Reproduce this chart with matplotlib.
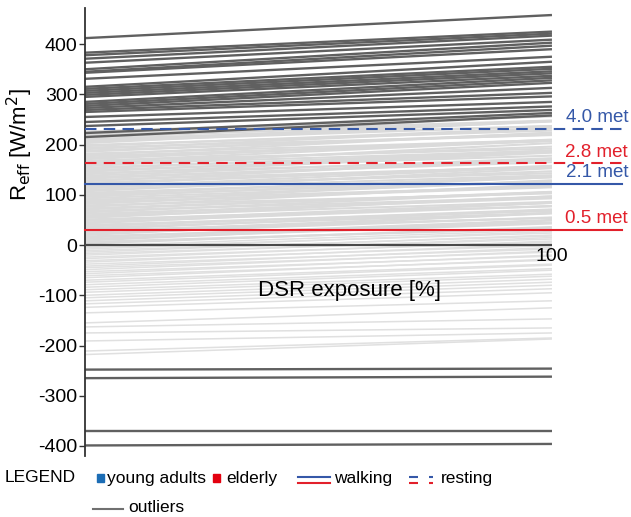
import matplotlib
matplotlib.use("Agg")
import matplotlib.pyplot as plt
from matplotlib.patches import Rectangle

plt.rcParams['font.family'] = ['Liberation Sans', 'DejaVu Sans']
plt.rcParams['axes.unicode_minus'] = False

# ---------------- data ----------------
exposure = [0, 100]

# light grey lines (R_eff at 0 % and 100 % DSR exposure)
light_pos_start = [226, 223, 220, 218, 214, 211, 208, 206, 203, 199, 197, 194, 191, 188, 186, 182,
                   179, 177, 174, 171, 168, 166, 163, 160, 157, 154, 152, 149, 146, 143, 141, 138,
                   135, 132, 129, 127, 124, 121, 118, 115, 113, 110, 107, 104, 101, 99, 96, 93,
                   90, 87, 85, 82, 79, 76, 73, 71, 68, 65, 62, 59, 57, 54, 51, 48,
                   45, 43, 40, 37, 34, 31, 29, 26, 23, 20, 17, 15, 12, 9, 6, 3]
light_pos_end = [256, 258, 248, 258, 247, 237, 246, 237, 247, 228, 233, 219, 232, 220, 223, 209,
                 224, 207, 208, 210, 192, 208, 196, 188, 203, 185, 188, 178, 186, 169, 184, 173,
                 165, 170, 156, 171, 156, 158, 143, 156, 147, 139, 153, 135, 137, 127, 135, 126,
                 116, 129, 115, 119, 103, 121, 105, 106, 95, 105, 93, 97, 86, 97, 77, 84,
                 78, 84, 68, 71, 64, 70, 54, 63, 55, 64, 45, 50, 43, 49, 33, 36]

light_neg_start = [-2, -5, -8, -11, -14, -17, -20, -24, -27, -31, -34, -38, -42, -45, -49, -53,
                   -57, -61, -65, -70, -74, -79, -84, -89, -94, -100, -105, -111, -117, -124,
                   -135, -155, -163, -175, -191, -211, -218]
light_neg_end = [30, 24, 27, 18, 20, 12, 15, 6, 8, -1, 2, -8, -5, -14, -12, -22,
                 -20, -30, -28, -38, -40, -47, -50, -58, -62, -68, -74, -80, -87, -95,
                 -111, -125, -147, -165, -175, -185, -187]

# outliers (dark grey)
outlier_start = [412, 383, 378, 371, 363, 350, 345, 343, 331, 315, 311, 307, 303, 299, 295, 285,
                 281, 277, 273, 269, 265, 255, 245, 237, 223, 215,
                 -248, -265, -370, -399]
outlier_end = [458, 425, 421, 417, 409, 403, 397, 390, 375, 365, 355, 351, 346, 342, 337, 333,
               328, 323, 313, 303, 296, 285, 276, 269, 263, 258,
               -246, -262, -370, -396]

# metabolic reference levels
met_labels = ['4.0 met', '2.8 met', '2.1 met', '0.5 met']
met_R = [231, 163, 122, 30]
met_group = ['young adults', 'elderly', 'young adults', 'elderly']
met_activity = ['resting', 'resting', 'walking', 'walking']

y_ticks = [-400, -300, -200, -100, 0, 100, 200, 300, 400]

# ---------------- style ----------------
BLUE_LINE = '#3558a8'
RED_LINE = '#e2202b'
BLUE_SQ = '#1c6db5'
RED_SQ = '#e3000f'
DARK = '#606060'
LIGHT_POS = '#dadada'
LIGHT_NEG = '#e0e0e0'

fig = plt.figure(figsize=(6.31, 5.17), dpi=100)
ax = fig.add_axes([85 / 631, (517 - 456) / 517, 537 / 631, 448 / 517])
ax.set_xlim(0, 115)
ax.set_ylim(-420, 472)

for s, e in zip(light_pos_start, light_pos_end):
    ax.plot(exposure, [s, e], color=LIGHT_POS, lw=1.5, zorder=1, solid_capstyle='butt')
for s, e in zip(light_neg_start, light_neg_end):
    ax.plot(exposure, [s, e], color=LIGHT_NEG, lw=1.1, zorder=1, solid_capstyle='butt')
for s, e in zip(outlier_start, outlier_end):
    ax.plot(exposure, [s, e], color=DARK, lw=1.7, zorder=2, solid_capstyle='butt')

# x axis line at R = 0
ax.plot(exposure, [0, 0], color='#4a4a4a', lw=1.6, zorder=3, solid_capstyle='butt')

# reference lines
for lab, r, grp, act in zip(met_labels, met_R, met_group, met_activity):
    col = BLUE_LINE if grp == 'young adults' else RED_LINE
    ls = '-' if act == 'walking' else (0, (5.5, 3.5))
    ax.plot([0, 115], [r, r], color=col, lw=1.5, ls=ls, zorder=4, clip_on=False)
    ax.text(116.3, r + 22, lab, color=col, fontsize=13.5, ha='right', va='center',
            clip_on=False)

ax.set_yticks(y_ticks)
ax.set_yticklabels([str(t) for t in y_ticks])
ax.set_xticks([])
ax.tick_params(axis='y', length=4, width=1.0, pad=1.5, labelsize=14, color='#333333')
for sp in ['top', 'right', 'bottom']:
    ax.spines[sp].set_visible(False)
ax.spines['left'].set_color('#333333')
ax.spines['left'].set_linewidth(1.3)
ax.patch.set_alpha(0)

ax.text(100, -6, '100', fontsize=14, ha='center', va='top', zorder=5)
ax.text(56.7, -90, 'DSR exposure [%]', fontsize=16, ha='center', va='center', zorder=5)

fig.text(20 / 631, 1 - 145 / 517, r'R$_{\mathrm{eff}}$ [W/m$^{2}$]', rotation=90,
         fontsize=16, ha='center', va='center')

# ---------------- legend (pixel overlay) ----------------
lg = fig.add_axes([0, 0, 1, 1])
lg.set_xlim(0, 631)
lg.set_ylim(517, 0)
lg.axis('off')
lg.patch.set_alpha(0)
fs = 12.5
lg.text(5, 478, 'LEGEND', fontsize=fs, va='center', ha='left')
lg.add_patch(Rectangle((96.5, 474), 7, 8, color=BLUE_SQ))
lg.text(107, 478, 'young adults', fontsize=fs, va='center', ha='left')
lg.add_patch(Rectangle((213, 474), 7, 8, color=RED_SQ))
lg.text(226, 478, 'elderly', fontsize=fs, va='center', ha='left')
lg.plot([298, 330], [477, 477], color=BLUE_LINE, lw=1.5)
lg.plot([298, 330], [483, 483], color=RED_LINE, lw=1.5)
lg.text(334, 478, 'walking', fontsize=fs, va='center', ha='left')
for x0, x1 in [(409, 418), (429, 433)]:
    lg.plot([x0, x1], [477, 477], color=BLUE_LINE, lw=1.5, solid_capstyle='butt')
    lg.plot([x0, x1], [483, 483], color=RED_LINE, lw=1.5, solid_capstyle='butt')
lg.text(441, 478, 'resting', fontsize=fs, va='center', ha='left')
lg.plot([93, 123], [509, 509], color='#707070', lw=1.5)
lg.text(128, 508, 'outliers', fontsize=fs, va='center', ha='left')

fig.savefig('out.png', dpi=100)
